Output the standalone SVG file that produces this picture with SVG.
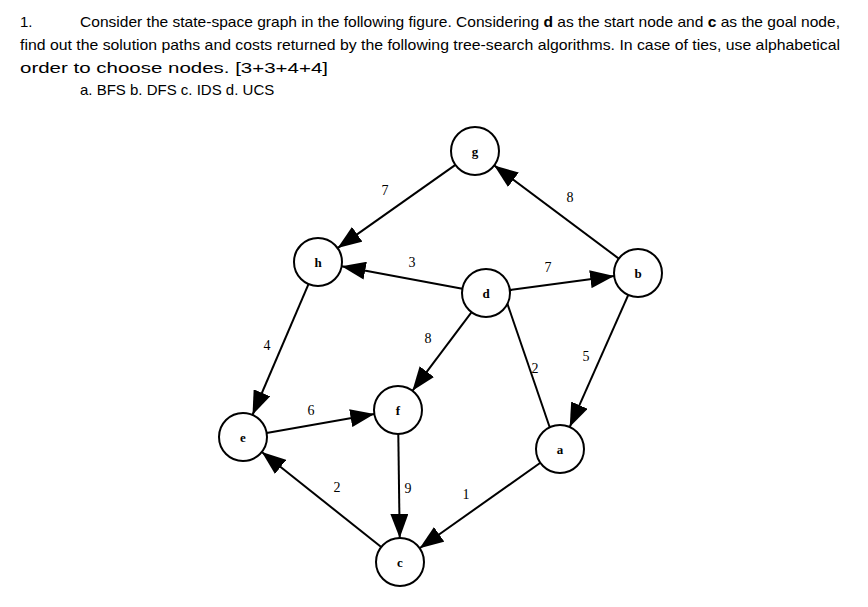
<svg xmlns="http://www.w3.org/2000/svg" width="868" height="607" viewBox="0 0 868 607">
<style>
.t{font-family:"Liberation Sans",Arial,sans-serif;font-size:15px;fill:#000}
.w{font-family:"Liberation Serif","Times New Roman",serif;font-size:14px;fill:#000;text-anchor:middle}
.n{font-family:"Liberation Serif","Times New Roman",serif;font-size:13px;font-weight:bold;fill:#000;text-anchor:middle}
circle{fill:#fff;stroke:#000;stroke-width:2}
line{stroke:#000;stroke-width:2}
</style>
<defs><marker id="ar" markerUnits="userSpaceOnUse" markerWidth="26" markerHeight="18" refX="24" refY="9" orient="auto"><path d="M0,0 L24,9 L0,18 z" fill="#000"/></marker></defs>
<rect width="868" height="607" fill="#fff"/>
<text class="t" x="20" y="27">1.</text>
<text class="t" x="80" y="27" textLength="760" lengthAdjust="spacingAndGlyphs">Consider the state-space graph in the following figure. Considering <tspan font-weight="bold">d</tspan> as the start node and <tspan font-weight="bold">c</tspan> as the goal node,</text>
<text class="t" x="20" y="50" textLength="820" lengthAdjust="spacingAndGlyphs">find out the solution paths and costs returned by the following tree-search algorithms. In case of ties, use alphabetical</text>
<text class="t" x="20" y="73" textLength="308" lengthAdjust="spacingAndGlyphs">order to choose nodes. [3+3+4+4]</text>
<text class="t" x="80" y="95">a.   BFS      b.  DFS       c.  IDS     d.  UCS</text>
<g id="edges">
<line x1="455.4" y1="164.9" x2="337.6" y2="248.1" marker-end="url(#ar)"/>
<line x1="618.8" y1="258.6" x2="494.2" y2="165.4" marker-end="url(#ar)"/>
<line x1="462.4" y1="288.7" x2="341.6" y2="266.3" marker-end="url(#ar)"/>
<line x1="509.8" y1="289.9" x2="614.2" y2="276.1" marker-end="url(#ar)"/>
<line x1="308.5" y1="284.1" x2="252.5" y2="414.9" marker-end="url(#ar)"/>
<line x1="471.6" y1="312.2" x2="412.4" y2="390.8" marker-end="url(#ar)"/>
<line x1="628.3" y1="294.9" x2="569.7" y2="427.1" marker-end="url(#ar)"/>
<line x1="549.7" y1="427.3" x2="496.3" y2="271.3" marker-end="url(#ar)"/>
<line x1="266.6" y1="432.9" x2="374.4" y2="414.1" marker-end="url(#ar)"/>
<line x1="398.3" y1="434" x2="399.7" y2="538" marker-end="url(#ar)"/>
<line x1="381.2" y1="547" x2="261.8" y2="452" marker-end="url(#ar)"/>
<line x1="540.4" y1="462.8" x2="419.6" y2="548.2" marker-end="url(#ar)"/>
<text class="w" x="385" y="195">7</text>
<text class="w" x="570" y="202">8</text>
<text class="w" x="412" y="267">3</text>
<text class="w" x="548" y="272">7</text>
<text class="w" x="267" y="350">4</text>
<text class="w" x="428" y="343">8</text>
<text class="w" x="586" y="361">5</text>
<text class="w" x="535" y="373">2</text>
<text class="w" x="311" y="415">6</text>
<text class="w" x="408" y="493">9</text>
<text class="w" x="337" y="492">2</text>
<text class="w" x="466" y="499">1</text>
</g>
<g id="node-g"><circle cx="475" cy="151" r="24"/><text class="n" x="475" y="156">g</text></g>
<g id="node-b"><circle cx="638" cy="273" r="24"/><text class="n" x="638" y="278">b</text></g>
<g id="node-h"><circle cx="318" cy="262" r="24"/><text class="n" x="318" y="267">h</text></g>
<g id="node-d"><circle cx="486" cy="293" r="24"/><text class="n" x="486" y="298">d</text></g>
<g id="node-f"><circle cx="398" cy="410" r="24"/><text class="n" x="398" y="415">f</text></g>
<g id="node-e"><circle cx="243" cy="437" r="24"/><text class="n" x="243" y="442">e</text></g>
<g id="node-a"><circle cx="560" cy="449" r="24"/><text class="n" x="560" y="454">a</text></g>
<g id="node-c"><circle cx="400" cy="562" r="24"/><text class="n" x="400" y="567">c</text></g>
</svg>
